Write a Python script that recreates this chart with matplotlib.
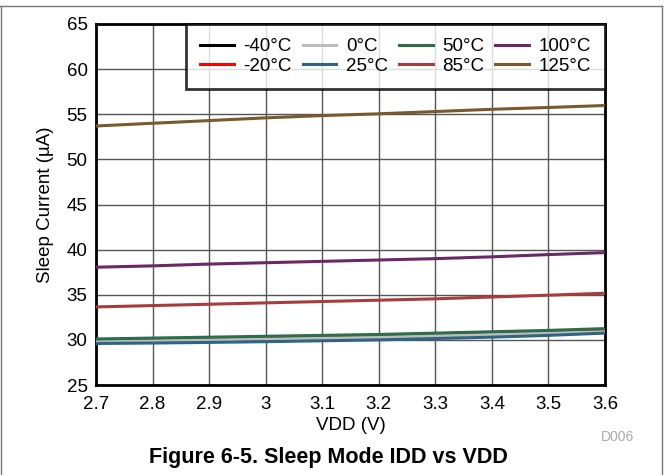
import matplotlib
matplotlib.use("Agg")
import matplotlib.pyplot as plt
from matplotlib.lines import Line2D

plt.rcParams['font.family'] = ['Liberation Sans', 'DejaVu Sans']

vdd = [2.7, 2.8, 2.9, 3.0, 3.1, 3.2, 3.3, 3.4, 3.5, 3.6]
labels = ['-40°C', '-20°C', '0°C', '25°C', '50°C', '85°C', '100°C', '125°C']
colors = ['#000000', '#ff0000', '#bdbdbd', '#2f6584', '#2c6e4a', '#a83c3c', '#6b2866', '#7a5a2c']
i_m40 = [29.85, 29.95, 30.05, 30.15, 30.25, 30.35, 30.5, 30.65, 30.8, 31.0]
i_m20 = [29.9, 29.98, 30.07, 30.17, 30.27, 30.38, 30.52, 30.68, 30.85, 31.06]
i_0 = [29.8, 29.9, 30.0, 30.1, 30.2, 30.3, 30.45, 30.6, 30.75, 30.9]
i_25 = [29.6, 29.65, 29.72, 29.8, 29.9, 30.0, 30.15, 30.3, 30.5, 30.75]
i_50 = [30.1, 30.2, 30.3, 30.4, 30.5, 30.6, 30.75, 30.9, 31.05, 31.25]
i_85 = [33.65, 33.8, 33.95, 34.1, 34.25, 34.4, 34.55, 34.75, 34.95, 35.17]
i_100 = [38.05, 38.2, 38.4, 38.55, 38.7, 38.85, 39.0, 39.2, 39.45, 39.67]
i_125 = [53.7, 54.0, 54.3, 54.6, 54.85, 55.05, 55.3, 55.55, 55.75, 55.97]
series = [i_m40, i_m20, i_0, i_25, i_50, i_85, i_100, i_125]
xticks = [2.7, 2.8, 2.9, 3.0, 3.1, 3.2, 3.3, 3.4, 3.5, 3.6]
xticklabels = ['2.7', '2.8', '2.9', '3', '3.1', '3.2', '3.3', '3.4', '3.5', '3.6']
yticks = [25, 30, 35, 40, 45, 50, 55, 60, 65]

FS = 13.5
fig = plt.figure(figsize=(6.66, 4.75), dpi=100)
ax = fig.add_axes([96/666, 1 - 385/475, (605 - 96)/666, (385 - 24)/475])

for ys, lab, c in zip(series, labels, colors):
    ax.plot(vdd, ys, color=c, lw=2.2, label=lab, zorder=3)

ax.set_xlim(2.7, 3.6)
ax.set_ylim(25, 65)
ax.set_xticks(xticks)
ax.set_xticklabels(xticklabels)
ax.set_yticks(yticks)
ax.grid(True, color='#555555', lw=1.0, zorder=1)
ax.set_axisbelow(True)
ax.tick_params(length=0, labelsize=FS)
ax.tick_params(axis='x', pad=8)
ax.tick_params(axis='y', pad=6)
for s in ax.spines.values():
    s.set_linewidth(2.0)
    s.set_color('black')

ax.set_xlabel('VDD (V)', fontsize=FS, labelpad=3)
ax.set_ylabel('Sleep Current (µA)', fontsize=FS, labelpad=9)

leg = ax.legend(ncol=4, loc='upper right', bbox_to_anchor=(1.0, 1.0),
                fontsize=FS, frameon=True, fancybox=False, borderaxespad=0,
                handlelength=1.8, columnspacing=0.6, handletextpad=0.5,
                labelspacing=0.12, borderpad=0.75)
leg.get_frame().set_edgecolor('black')
leg.get_frame().set_linewidth(2.0)
leg.set_zorder(5)

fig.text(617/666, 1 - 437/475, 'D006', color='#aaaaaa', fontsize=10, ha='center', va='center')
fig.text(328/666, 1 - 458/475, 'Figure 6-5. Sleep Mode IDD vs VDD', fontsize=15.5,
         fontweight='bold', ha='center', va='center')

# outer frame
fig.add_artist(Line2D([0, 662/666], [1 - 6/475, 1 - 6/475], transform=fig.transFigure, color='#777777', lw=1))
fig.add_artist(Line2D([1/666, 1/666], [0, 1 - 6/475], transform=fig.transFigure, color='#777777', lw=1))
fig.add_artist(Line2D([662/666, 662/666], [0, 1 - 6/475], transform=fig.transFigure, color='#777777', lw=1))

fig.savefig('out.png', dpi=100)
